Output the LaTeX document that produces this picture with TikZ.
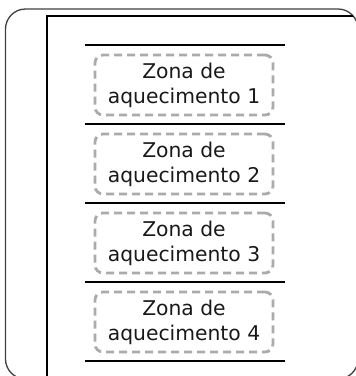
\documentclass[tikz,border=0pt]{standalone}
\usepackage{fontspec}
\setmainfont{DejaVu Sans}
\begin{document}
\begin{tikzpicture}[x=1pt,y=-1pt,
  zonebox/.style={draw=black!33, line width=2.8pt, dash pattern=on 8pt off 5pt, rounded corners=8pt,
    minimum width=178pt, minimum height=60pt, inner sep=0pt, align=center,
    font=\fontsize{20.3}{25}\selectfont, text=black!90},
  sepline/.style={draw=black, line width=1.3pt},
  edgeline/.style={draw=black, line width=2pt}]
\useasboundingbox (0,0) rectangle (356,376);
\begin{scope}
\clip (0,0) rectangle (356,376);
% outer rounded frame
\draw[black!75, line width=1.3pt, rounded corners=20pt] (5.5,9) rectangle (358,379);
% inner frame clipped to outer
\begin{scope}
\clip[rounded corners=20pt] (5.5,9) rectangle (358,379);
\draw[black, line width=1.4pt] (47,400) -- (47,16) -- (400,16);
\end{scope}
\end{scope}
% separator lines
\coordinate (l0a) at (85,45);   \coordinate (l0b) at (285,45);
\coordinate (l1a) at (85,124);  \coordinate (l1b) at (285,124);
\coordinate (l2a) at (85,203);  \coordinate (l2b) at (285,203);
\coordinate (l3a) at (85,282);  \coordinate (l3b) at (285,282);
\coordinate (l4a) at (85,361);  \coordinate (l4b) at (285,361);
\draw[edgeline] (l0a) -- (l0b);
\draw[sepline] (l1a) -- (l1b);
\draw[sepline] (l2a) -- (l2b);
\draw[sepline] (l3a) -- (l3b);
\draw[edgeline] (l4a) -- (l4b);
% zones
\node[zonebox] (z1) at (184,85) {Zona de\\aquecimento 1};
\node[zonebox] (z2) at (184,164) {Zona de\\aquecimento 2};
\node[zonebox] (z3) at (184,243) {Zona de\\aquecimento 3};
\node[zonebox] (z4) at (184,322) {Zona de\\aquecimento 4};
\end{tikzpicture}
\end{document}
